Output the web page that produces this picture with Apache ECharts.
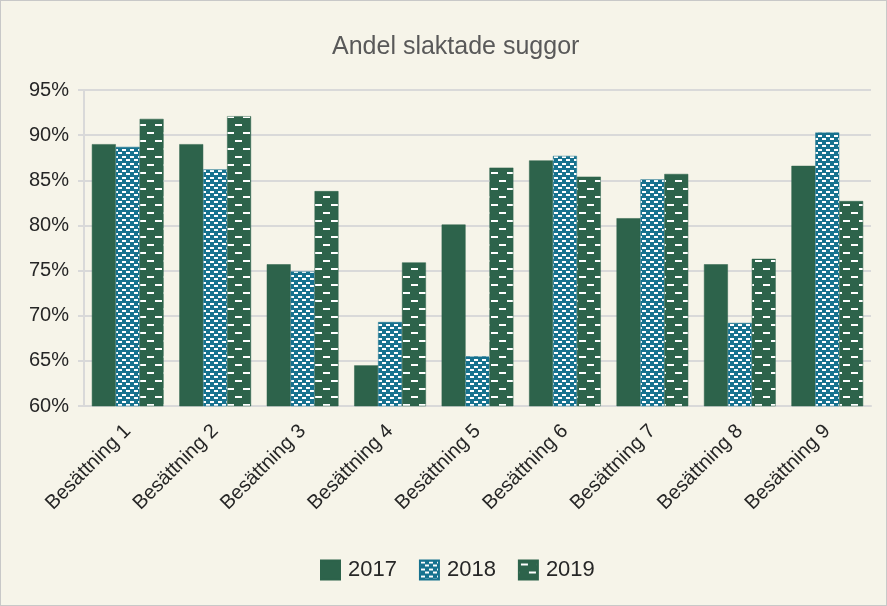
<!DOCTYPE html>
<html>
<head>
<meta charset="utf-8">
<script src="https://cdn.jsdelivr.net/npm/echarts@6/dist/echarts.min.js"></script>
<style>
  html, body { margin: 0; padding: 0; background: #f6f4e9; }
  #chart { width: 885px; height: 604px; border: 1px solid #c8c8c8; }
</style>
</head>
<body>
<div id="chart"></div>
<script>
const categories = ['Besättning 1', 'Besättning 2', 'Besättning 3', 'Besättning 4', 'Besättning 5',
  'Besättning 6', 'Besättning 7', 'Besättning 8', 'Besättning 9']
const years = ['2017', '2018', '2019']
const values2017 = [89.0, 89.0, 75.7, 64.5, 80.1, 87.2, 80.8, 75.7, 86.6]
const values2018 = [88.7, 86.2, 74.9, 69.3, 65.5, 87.7, 85.1, 69.2, 90.3]
const values2019 = [91.8, 92.1, 83.8, 75.9, 86.4, 85.4, 85.7, 76.3, 82.7]

const green = '#2d634b'
const teal = '#17728f'

// mönster för 2018 (prickar) och 2019 (streck)
function dotPattern () {
  const c = document.createElement('canvas')
  c.width = 8
  c.height = 7
  const ctx = c.getContext('2d')
  ctx.fillStyle = teal
  ctx.fillRect(0, 0, 8, 7)
  ctx.fillStyle = '#ffffff'
  ctx.fillRect(1, 1, 4, 2)
  ctx.fillRect(5, 4, 3, 2)
  ctx.fillRect(0, 4, 1, 2)
  return c
}
function dashPattern () {
  const c = document.createElement('canvas')
  c.width = 16
  c.height = 16
  const ctx = c.getContext('2d')
  ctx.fillStyle = green
  ctx.fillRect(0, 0, 16, 16)
  ctx.fillStyle = '#ffffff'
  ctx.fillRect(2, 3, 7, 2)
  ctx.fillRect(10, 11, 6, 2)
  ctx.fillRect(0, 11, 1, 2)
  return c
}

const chart = echarts.init(document.getElementById('chart'))
const fills = [green, { image: dotPattern(), repeat: 'repeat' }, { image: dashPattern(), repeat: 'repeat' }]
const seriesData = [values2017, values2018, values2019]

chart.setOption({
  backgroundColor: '#f6f4e9',
  title: {
    text: 'Andel slaktade suggor',
    left: 326,
    top: 29,
    textStyle: { fontFamily: 'Liberation Sans', fontSize: 25, fontWeight: 'normal', color: '#595959' }
  },
  legend: {
    bottom: 19,
    left: 314,
    icon: 'rect',
    itemWidth: 19,
    itemHeight: 19,
    itemGap: 22,
    textStyle: { fontFamily: 'Liberation Sans', fontSize: 22, color: '#262626', padding: [0, 0, 0, 3] },
    data: years
  },
  grid: { left: 83, right: 15, top: 89, bottom: 199 },
  xAxis: {
    type: 'category',
    data: categories,
    axisLine: { lineStyle: { color: '#d9d9d9', width: 2 } },
    axisTick: { show: false },
    axisLabel: {
      rotate: 45,
      interval: 0,
      fontFamily: 'Liberation Sans',
      fontSize: 20,
      color: '#262626',
      margin: 22
    }
  },
  yAxis: {
    type: 'value',
    min: 60,
    max: 95,
    interval: 5,
    axisLine: { show: true, lineStyle: { color: '#d9d9d9', width: 2 } },
    axisTick: { show: true, length: 6, lineStyle: { color: '#d9d9d9', width: 2 } },
    splitLine: { lineStyle: { color: '#d9d9d9', width: 2 } },
    axisLabel: {
      formatter: '{value}%',
      fontFamily: 'Liberation Sans',
      fontSize: 20,
      color: '#262626',
      margin: 15
    }
  },
  series: years.map((y, i) => ({
    name: y,
    type: 'bar',
    data: seriesData[i],
    barGap: '0%',
    barCategoryGap: '18%',
    itemStyle: { color: fills[i], borderColor: i === 1 ? teal : green, borderWidth: 0.5 }
  }))
})
</script>
</body>
</html>
